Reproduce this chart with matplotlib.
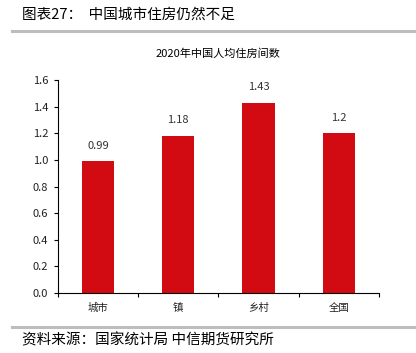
import matplotlib.pyplot as plt
from matplotlib.lines import Line2D

plt.rcParams['font.family'] = ['Noto Sans CJK SC', 'DejaVu Sans']

categories = ['城市', '镇', '乡村', '全国']
values = [0.99, 1.18, 1.43, 1.2]
value_labels = ['0.99', '1.18', '1.43', '1.2']

fig = plt.figure(figsize=(4.16, 3.53), dpi=100)
ax = fig.add_axes([0.139, 0.170, 0.772, 0.603])

x = [i + 0.5 for i in range(len(categories))]
ax.bar(x, values, width=0.4, color='#D20A11')
for xi, v, lab in zip(x, values, value_labels):
    ax.text(xi, v + 0.08, lab, ha='center', va='bottom', fontsize=8, color='#333333')

ax.set_xlim(0, 4)
ax.set_ylim(0, 1.6)
ax.set_yticks([0, 0.2, 0.4, 0.6, 0.8, 1.0, 1.2, 1.4, 1.6])
ax.set_yticklabels(['%.1f' % t for t in ax.get_yticks()], fontsize=8, color='#222222')
ax.set_xticks([0, 1, 2, 3, 4])
ax.set_xticklabels([])
ax.set_xticks(x, minor=True)
ax.set_xticklabels(categories, minor=True, fontsize=7.5, color='#222222')
ax.tick_params(axis='x', which='minor', length=0, pad=7)
ax.tick_params(axis='x', which='major', length=3, width=0.8)
ax.tick_params(axis='y', length=3, width=0.8, pad=4)
ax.spines['top'].set_visible(False)
ax.spines['right'].set_visible(False)

ax.set_title('2020年中国人均住房间数', fontsize=8, pad=17)

fig.text(0.053, 0.957, '图表27：  中国城市住房仍然不足', fontsize=10.5, va='center', ha='left')
fig.add_artist(Line2D([0.03, 1.0], [0.912, 0.912], color='#bdbdbd', linewidth=2.2))
fig.add_artist(Line2D([0.03, 1.0], [0.073, 0.073], color='#bdbdbd', linewidth=2.2))
fig.text(0.053, 0.035, '资料来源：国家统计局 中信期货研究所', fontsize=10.5, va='center', ha='left')

fig.savefig('out.png', dpi=100)
